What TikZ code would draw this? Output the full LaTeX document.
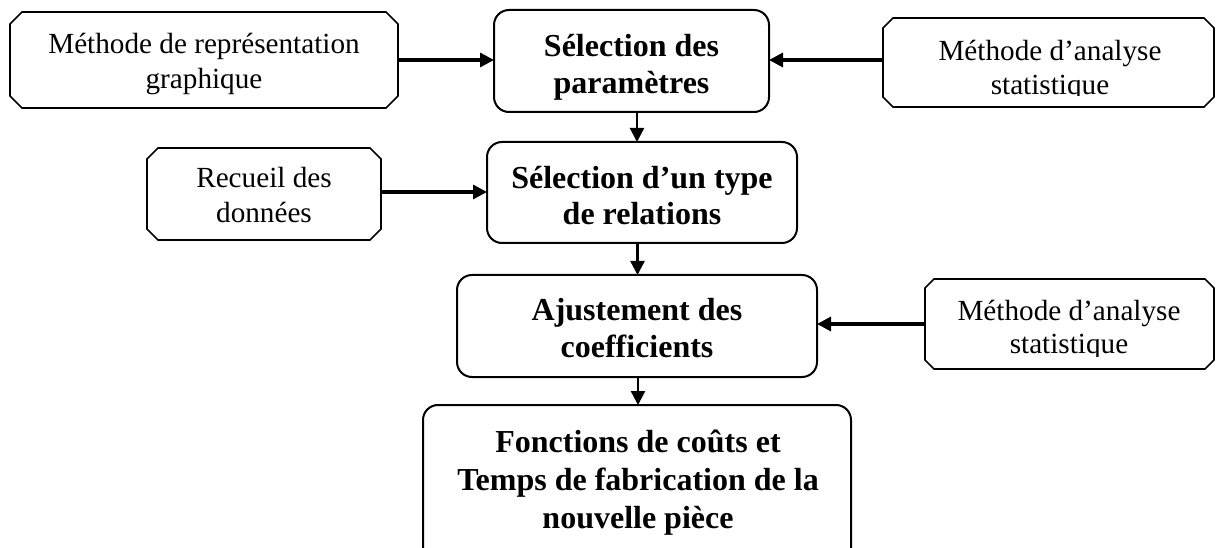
\documentclass[tikz,border=0pt]{standalone}
\usepackage{fontspec}
\setmainfont{Liberation Serif}
\usetikzlibrary{arrows.meta,fit}
\newcommand{\chbox}[2]{\draw[sideline] ([xshift=#2]#1.north west) -- ([xshift=-#2]#1.north east) -- ([yshift=-#2]#1.north east) -- ([yshift=#2]#1.south east) -- ([xshift=-#2]#1.south east) -- ([xshift=#2]#1.south west) -- ([yshift=#2]#1.south west) -- ([yshift=-#2]#1.north west) -- cycle;}
\newcommand{\tp}{\rule{0pt}{0.75em}}
\newcommand{\bt}{\rule[-0.25em]{0pt}{0pt}}
\tikzset{
  frame/.style={draw=none,inner sep=0pt,outer sep=0pt},
  mainbox/.style={draw,line width=2pt,rounded corners=15pt,inner sep=0pt,outer sep=0pt},
  sideline/.style={line width=1.6pt,line join=miter},
  regtext/.style={inner sep=0pt,align=center},
  boldtext/.style={inner sep=0pt,align=center},
  harrow/.style={line width=3.2pt,-{Triangle[length=14pt,width=14pt]}},
  varrow/.style={line width=2.4pt,-{Triangle[length=14pt,width=14pt]}}
}
\begin{document}
\begin{tikzpicture}[x=1pt,y=-1pt]
\clip (0,0) rectangle (1216,548);
\fill[white] (0,0) rectangle (1216,548);
% main boxes
\node[mainbox,fit={(494,10) (769,112)}] (m1) {};
\node[mainbox,fit={(487,142) (797,243)}] (m2) {};
\node[mainbox,fit={(457,275) (817,377)}] (m3) {};
\node[mainbox,fit={(423,405) (851,570)}] (m4) {};
% side boxes
\node[frame,fit={(10,12) (398,108)}] (l1) {};
\node[frame,fit={(883,18) (1214,107)}] (r1) {};
\node[frame,fit={(147,148) (381,240)}] (l2) {};
\node[frame,fit={(925,279) (1214,369)}] (r2) {};
\chbox{l1}{12pt}
\chbox{r1}{10pt}
\chbox{l2}{11pt}
\chbox{r2}{9pt}
% texts
\node[boldtext,font=\fontsize{32}{37}\selectfont\bfseries] (m1t) at (631.5,67) {\tp Sélection des\\paramètres\bt};
\node[boldtext,font=\fontsize{32}{36}\selectfont\bfseries] (m2t) at (642,198.5) {\tp Sélection d’un type\\de relations\bt};
\node[boldtext,font=\fontsize{32}{37}\selectfont\bfseries] (m3t) at (637,331) {\tp Ajustement des\\coefficients\bt};
\node[boldtext,font=\fontsize{32}{38}\selectfont\bfseries] (m4t) at (638,482) {\tp Fonctions de coûts et\\Temps de fabrication de la\\nouvelle pièce\bt};
\node[regtext,font=\fontsize{29.2}{35}\selectfont] (l1t) at (204,64) {\tp Méthode de représentation\\graphique\bt};
\node[regtext,font=\fontsize{29.2}{35}\selectfont] (l2t) at (264,197.5) {\tp Recueil des\\données\bt};
\begin{scope}
\clip (883,18) rectangle (1214,96);
\node[regtext,font=\fontsize{29.2}{34}\selectfont] (r1t) at (1050,70.5) {\tp Méthode d’analyse\\statistique\bt};
\end{scope}
\begin{scope}
\clip (925,279) rectangle (1214,356);
\node[regtext,font=\fontsize{29.2}{33}\selectfont] (r2t) at (1069,330) {\tp Méthode d’analyse\\statistique\bt};
\end{scope}
% connectors
\draw[harrow] (l1.east) -- (l1.east -| m1.west);
\draw[harrow] ([yshift=2.5pt]r1.west) -- ([yshift=2.5pt]r1.west -| m1.east);
\draw[varrow] ([xshift=5.5pt]m1.south) -- ([xshift=5.5pt]m1.south |- m2.north);
\draw[harrow] ([yshift=2pt]l2.east) -- ([yshift=2pt]l2.east -| m2.west);
\draw[varrow] ([xshift=-4.5pt]m2.south) -- ([xshift=-4.5pt]m2.south |- m3.north);
\draw[harrow] (r2.west) -- (r2.west -| m3.east);
\draw[varrow] ([xshift=1pt]m3.south) -- ([xshift=1pt]m3.south |- m4.north);
\end{tikzpicture}
\end{document}
